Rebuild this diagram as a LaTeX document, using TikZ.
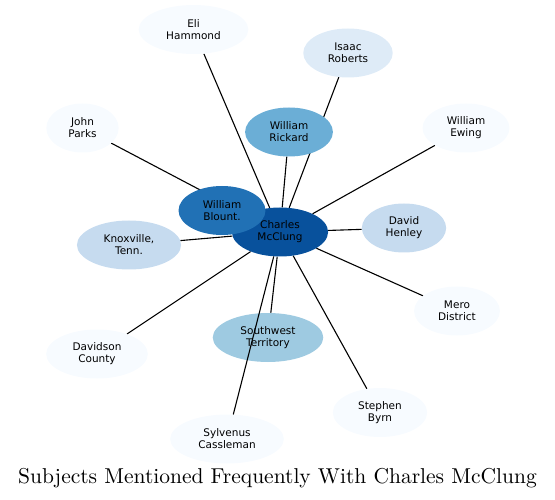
\documentclass[tikz,border=0pt]{standalone}
\usepackage{fontspec}
\newfontfamily\nodefont{DejaVu Sans}
\newfontfamily\titlefont{lmroman10-regular}[Extension=.otf]
\usepackage{tikz}
\usetikzlibrary{shapes.geometric,backgrounds}
\definecolor{blueA}{HTML}{F7FBFF}
\definecolor{blueB}{HTML}{DEEBF7}
\definecolor{blueC}{HTML}{C6DBEF}
\definecolor{blueD}{HTML}{9ECAE1}
\definecolor{blueE}{HTML}{6BAED6}
\definecolor{blueF}{HTML}{2171B5}
\definecolor{blueG}{HTML}{08519C}

\begin{document}
\begin{tikzpicture}[x=1pt,y=-1pt,
    subj/.style={ellipse,align=center,inner xsep=11.5pt,inner ysep=0pt,
      minimum height=49pt,font=\nodefont\fontsize{10.5}{12}\selectfont},
    link/.style={line width=1.1pt,black}]
  \useasboundingbox (0,0) rectangle (555,500);
  \node[subj,fill=blueA] (EH) at (193.5,29.5) {Eli\\Hammond};
  \node[subj,fill=blueB] (IR) at (348,53) {Isaac\\Roberts};
  \node[subj,fill=blueE] (WR) at (289,132) {William\\Rickard};
  \node[subj,fill=blueA] (JP) at (82.5,128) {John\\Parks};
  \node[subj,fill=blueA] (WE) at (466,128) {William\\Ewing};
  \node[subj,fill=blueG] (CM) at (280,232) {Charles\\McClung};
  \node[subj,fill=blueF] (WB) at (222,210.5) {William\\Blount.};
  \node[subj,fill=blueC] (KT) at (129,245) {Knoxville,\\Tenn.};
  \node[subj,fill=blueC] (DH) at (404,228) {David\\Henley};
  \node[subj,fill=blueA] (MD) at (457,311) {Mero\\District};
  \node[subj,fill=blueA] (DC) at (97,354) {Davidson\\County};
  \node[subj,fill=blueD] (ST) at (268,337.5) {Southwest\\Territory};
  \node[subj,fill=blueA] (SB) at (380,412.5) {Stephen\\Byrn};
  \node[subj,fill=blueA] (SC) at (227,439) {Sylvenus\\Cassleman};
  \begin{scope}[on background layer]
    \foreach \n in {EH,IR,WR,JP,WE,KT,DH,MD,DC,ST,SB}
      \draw[link] (\n) -- (CM);
  \end{scope}
  \draw[link] (SC) -- (CM);
  \node[font=\titlefont\fontsize{21.5}{26}\selectfont] (T) at (277.5,478) {Subjects Mentioned Frequently With Charles McClung};
\end{tikzpicture}
\end{document}
